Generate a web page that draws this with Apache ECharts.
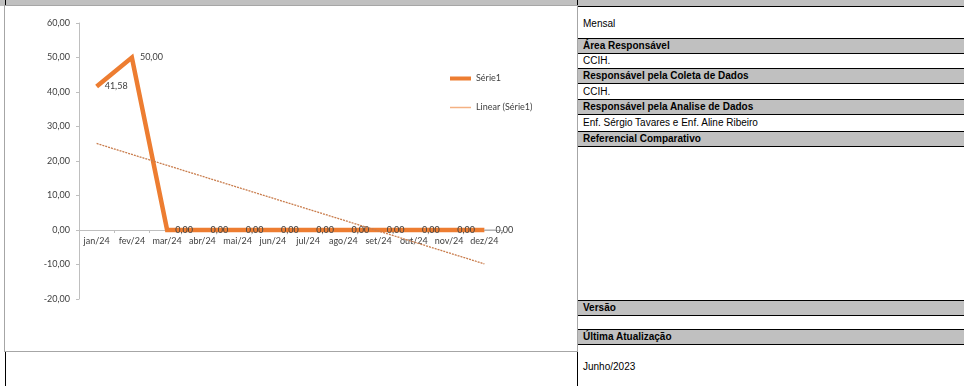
<!DOCTYPE html>
<html>
<head>
<meta charset="utf-8">
<script src="https://cdn.jsdelivr.net/npm/echarts@6/dist/echarts.min.js"></script>
<style>
  html, body { margin: 0; padding: 0; background: #fff; }
  body { width: 964px; height: 386px; position: relative; overflow: hidden; font-family: "Liberation Sans", Arial, sans-serif; }
  .abs { position: absolute; }
  .band { position: absolute; left: 578px; width: 386px; background: #c0c0c0; }
  .hline { position: absolute; left: 578px; width: 386px; height: 1px; background: #000; }
  .txt { position: absolute; left: 583px; font-size: 10px; color: #000; white-space: nowrap; line-height: 12px; }
  .hd { font-weight: bold; }
  #chart { position: absolute; left: 4px; top: 5px; width: 574px; height: 347px; box-sizing: border-box; border: 1px solid #a6a6a6; background: #fff; }
</style>
</head>
<body>
<!-- sheet frame -->
<div class="abs" style="left:0;top:0;width:964px;height:6px;background:#c0c0c0"></div>
<div class="abs" style="left:5px;top:0;width:1px;height:386px;background:#000"></div>
<div class="abs" style="left:577px;top:0;width:1px;height:386px;background:#000"></div>

<!-- info table -->
<div class="hline" style="top:6px"></div>
<div class="txt" style="top:18px">Mensal</div>
<div class="band" style="top:38px;height:15px"></div>
<div class="hline" style="top:38px"></div>
<div class="txt hd" style="top:40px">Área Responsável</div>
<div class="hline" style="top:53px"></div>
<div class="txt" style="top:55px">CCIH.</div>
<div class="band" style="top:68px;height:15px"></div>
<div class="hline" style="top:68px"></div>
<div class="txt hd" style="top:70px">Responsável pela Coleta de Dados</div>
<div class="hline" style="top:83px"></div>
<div class="txt" style="top:86px">CCIH.</div>
<div class="band" style="top:99px;height:15px"></div>
<div class="hline" style="top:99px"></div>
<div class="txt hd" style="top:101px">Responsável pela Analise de Dados</div>
<div class="hline" style="top:114px"></div>
<div class="txt" style="top:117px">Enf. Sérgio Tavares e Enf. Aline Ribeiro</div>
<div class="band" style="top:131px;height:15px"></div>
<div class="hline" style="top:131px"></div>
<div class="txt hd" style="top:133px">Referencial Comparativo</div>
<div class="hline" style="top:146px"></div>
<div class="band" style="top:300px;height:15px"></div>
<div class="hline" style="top:300px"></div>
<div class="txt hd" style="top:302px">Versão</div>
<div class="hline" style="top:315px"></div>
<div class="band" style="top:329px;height:15px"></div>
<div class="hline" style="top:329px"></div>
<div class="txt hd" style="top:331px">Última Atualização</div>
<div class="hline" style="top:344px"></div>
<div class="txt" style="top:361px">Junho/2023</div>

<div id="chart"></div>

<script>
// Monthly indicator values for 2024
const months = ['jan/24', 'fev/24', 'mar/24', 'abr/24', 'mai/24', 'jun/24', 'jul/24', 'ago/24', 'set/24', 'out/24', 'nov/24', 'dez/24'];
const serie1 = [41.58, 50.00, 0, 0, 0, 0, 0, 0, 0, 0, 0, 0];
// Linear trend line end points (jan/24 and dez/24)
const trendStart = 25.08;
const trendEnd = -9.82;
const yTicks = [-20, -10, 0, 10, 20, 30, 40, 50, 60];

const fmt = v => v.toFixed(2).replace('.', ',');
const ORANGE = '#ED7D31';
const labelFont = 'Lato, "Open Sans", sans-serif';

const yMin = yTicks[0], yMax = yTicks[yTicks.length - 1];
const gridH = 276;
// category axis sits on the zero line
const zeroOffset = -gridH * (0 - yMin) / (yMax - yMin);

const trendData = months.map((m, i) => i === 0 ? trendStart : (i === months.length - 1 ? trendEnd : null));
const serieData = serie1.map((v, i) => i === serie1.length - 1
  ? { value: v, labelLine: { show: true, lineStyle: { color: '#a6a6a6', width: 1 } } }
  : v);

const chart = echarts.init(document.getElementById('chart'), null, { renderer: 'canvas' });
chart.setOption({
  animation: false,
  grid: { left: 74, top: 17, width: 423, height: gridH, containLabel: false },
  legend: [
    {
      left: 440, top: 63, itemWidth: 21, itemHeight: 4, itemGap: 0,
      data: [{ name: 'Série1', icon: 'rect', itemStyle: { color: ORANGE } }],
      textStyle: { fontFamily: labelFont, fontSize: 9, color: '#404040' }
    },
    {
      left: 440, top: 92, itemWidth: 21, itemHeight: 1.5, itemGap: 0,
      data: [{ name: 'Linear (Série1)', icon: 'rect', itemStyle: { color: '#F4B183' } }],
      textStyle: { fontFamily: labelFont, fontSize: 9, color: '#404040' }
    }
  ],
  xAxis: {
    type: 'category',
    data: months,
    boundaryGap: true,
    position: 'bottom',
    offset: zeroOffset,
    axisLine: { onZero: false, lineStyle: { color: '#bfbfbf', width: 1 } },
    axisTick: { show: true, length: 3, inside: false, alignWithLabel: false, lineStyle: { color: '#bfbfbf' } },
    axisLabel: { margin: 7, fontFamily: labelFont, fontSize: 9, color: '#404040', interval: 0 },
    splitLine: { show: false }
  },
  yAxis: {
    type: 'value',
    min: yMin, max: yMax, interval: 10,
    axisLine: { show: true, lineStyle: { color: '#bfbfbf', width: 1 } },
    axisTick: { show: true, length: 3, lineStyle: { color: '#bfbfbf' } },
    axisLabel: { margin: 9, fontFamily: labelFont, fontSize: 9, color: '#404040', formatter: fmt },
    splitLine: { show: false }
  },
  series: [
    {
      name: 'Série1',
      type: 'line',
      data: serieData,
      symbol: 'circle',
      symbolSize: 0.1,
      showSymbol: true,
      lineStyle: { color: ORANGE, width: 4.5, join: 'miter' },
      itemStyle: { color: ORANGE },
      label: {
        show: true, position: 'right', distance: 8, offset: [0, 1],
        fontFamily: labelFont, fontSize: 9, color: '#404040',
        formatter: p => fmt(p.value)
      },
      labelLayout: p => p.dataIndex === serie1.length - 1 ? { dx: 3 } : {},
      z: 2
    },
    {
      name: 'Linear (Série1)',
      type: 'line',
      data: trendData,
      connectNulls: true,
      symbol: 'none',
      lineStyle: { color: '#c97d4d', width: 1.3, type: [2, 1] },
      itemStyle: { color: '#F4B183' },
      z: 3
    }
  ]
});
</script>
</body>
</html>
